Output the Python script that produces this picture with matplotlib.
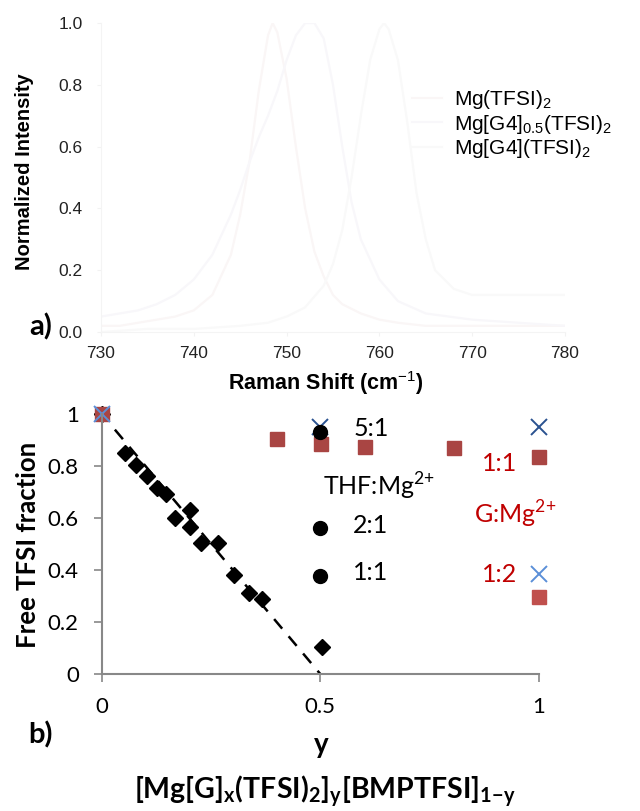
import matplotlib
matplotlib.use("Agg")
import matplotlib.pyplot as plt

plt.rcParams['mathtext.fontset'] = 'custom'
plt.rcParams['mathtext.rm'] = 'Lato'
plt.rcParams['mathtext.bf'] = 'Lato:bold'
plt.rcParams['mathtext.sf'] = 'Liberation Sans'

# --- a) Raman spectra (read off the picture) ---
shift_1 = [730, 732, 734, 736, 738, 740, 742, 744, 745, 746, 747, 748, 748.5, 749, 750, 751,
           752, 753, 754, 755, 756, 758, 760, 762, 765, 770, 775, 780]
int_1 = [0.02, 0.02, 0.03, 0.04, 0.05, 0.07, 0.12, 0.25, 0.38, 0.55, 0.78, 0.96, 1.0, 0.97, 0.82, 0.6,
         0.4, 0.26, 0.18, 0.12, 0.09, 0.06, 0.04, 0.03, 0.02, 0.02, 0.02, 0.02]
shift_2 = [730, 732, 734, 736, 738, 740, 742, 744, 745, 746, 747, 748, 749, 750, 751, 752, 753, 754,
           755, 756, 757, 758, 760, 762, 765, 770, 775, 780]
int_2 = [0.05, 0.06, 0.07, 0.09, 0.12, 0.17, 0.25, 0.38, 0.46, 0.55, 0.63, 0.7, 0.78, 0.88, 0.96, 1.0, 1.0, 0.95,
         0.8, 0.6, 0.42, 0.3, 0.17, 0.1, 0.06, 0.04, 0.03, 0.02]
shift_3 = [730, 735, 740, 745, 748, 750, 752, 754, 755, 756, 757, 758, 759, 760, 760.5, 761, 762, 763,
           764, 765, 766, 768, 770, 775, 780]
int_3 = [0.0, 0.01, 0.01, 0.02, 0.03, 0.05, 0.08, 0.15, 0.22, 0.33, 0.5, 0.7, 0.88, 0.98, 1.0, 0.98, 0.88, 0.68,
         0.45, 0.3, 0.2, 0.14, 0.12, 0.12, 0.12]
spec_labels = ['Mg(TFSI)$\\mathsf{_2}$', 'Mg[G4]$\\mathsf{_{0.5}}$(TFSI)$\\mathsf{_2}$', 'Mg[G4](TFSI)$\\mathsf{_2}$']

# --- b) free TFSI fraction vs y ---
dia_x = [0, 0.053, 0.079, 0.104, 0.127, 0.146, 0.167, 0.201, 0.201, 0.226, 0.266, 0.302, 0.337, 0.367, 0.504]
dia_y = [1, 0.849, 0.804, 0.762, 0.717, 0.692, 0.599, 0.631, 0.567, 0.505, 0.505, 0.381, 0.310, 0.287, 0.105]
sq11_x = [0, 0.401, 0.502, 0.603, 0.805, 1.0]
sq11_y = [1, 0.904, 0.885, 0.872, 0.868, 0.833]
sq12_x = [1.0]
sq12_y = [0.295]
xdark_x = [0.5, 1.0]
xdark_y = [0.951, 0.951]
xlight_x = [0, 1.0]
xlight_y = [1, 0.385]
thf_x = [0.5, 0.5, 0.5]
thf_y = [0.932, 0.56, 0.377]
thf_labels = ['5:1', '2:1', '1:1']
fit_x = [0.03, 0.5]
fit_y = [0.94, 0.0]

fig = plt.figure(figsize=(6.4, 8.11), dpi=100)

# top panel
ax1 = fig.add_axes([0.1578, 0.5906, 0.725, 0.381])
ax1.plot(shift_1, int_1, color='#faf6f6', lw=1.6, label=spec_labels[0])
ax1.plot(shift_2, int_2, color='#f8f7fa', lw=1.6, label=spec_labels[1])
ax1.plot(shift_3, int_3, color='#f9f9f9', lw=1.6, label=spec_labels[2])
ax1.set_xlim(730, 780)
ax1.set_ylim(0, 1.0)
ax1.set_xticks([730, 740, 750, 760, 770, 780])
ax1.set_yticks([0, 0.2, 0.4, 0.6, 0.8, 1.0])
ax1.set_yticklabels(['0.0', '0.2', '0.4', '0.6', '0.8', '1.0'])
for s in ['top', 'right']:
    ax1.spines[s].set_visible(False)
for s in ['left', 'bottom']:
    ax1.spines[s].set_color('#f4f4f4')
ax1.tick_params(colors='#f2f2f2', labelcolor='#222222', length=3, labelsize=12.5)
ax1.tick_params(axis='y', pad=10)
ax1.tick_params(axis='x', pad=7)
for t in ax1.get_xticklabels() + ax1.get_yticklabels():
    t.set_fontfamily('Liberation Sans')
leg = ax1.legend(loc='upper left', bbox_to_anchor=(0.671, 0.79), frameon=False,
                 prop={'family': 'Liberation Sans', 'size': 15}, borderaxespad=0, borderpad=0,
                 handlelength=1.4, handletextpad=0.6, labelspacing=0.08)
fig.text(0.039, 0.788, 'Normalized Intensity', rotation=90, ha='center', va='center',
         family='Liberation Sans', weight='bold', fontsize=14.5)
fig.text(0.509, 0.528, 'Raman Shift (cm$\\mathsf{^{-1}}$)', ha='center', va='center',
         family='Liberation Sans', weight='bold', fontsize=15.5)
fig.text(0.064, 0.597, 'a)', ha='center', va='center', family='Lato', weight='bold', fontsize=21)

# bottom panel
ax2 = fig.add_axes([0.159, 0.1689, 0.683, 0.3206])
ax2.plot(fit_x, fit_y, color='black', lw=1.8, linestyle=(0, (5, 4)))
ax2.plot(dia_x, dia_y, 'D', color='black', markersize=8, linestyle='none', clip_on=False)
ax2.plot(sq11_x, sq11_y, 's', color='#a94543', markersize=10, linestyle='none', clip_on=False)
ax2.plot(sq12_x, sq12_y, 's', color='#c0504d', markersize=10, linestyle='none', clip_on=False)
ax2.plot(xdark_x, xdark_y, 'x', color='#2a5290', markersize=11, mew=1.4, linestyle='none', clip_on=False)
ax2.plot(xlight_x, xlight_y, 'x', color='#5b8fd8', markersize=11, mew=1.4, linestyle='none', clip_on=False)
ax2.plot(thf_x, thf_y, 'o', color='black', markersize=10, linestyle='none', clip_on=False)
for yv, lab in zip(thf_y, thf_labels):
    ax2.text(0.575, yv + 0.012, lab, ha='left', va='center', family='Lato', fontsize=18)
ax2.text(0.505, 0.722, 'THF:Mg$^{2{+}}$', ha='left', va='center', family='Lato', fontsize=18)
ax2.text(0.911, 0.81, '1:1', ha='center', va='center', family='Lato', fontsize=18, color='#c00000')
ax2.text(0.945, 0.615, 'G:Mg$^{2{+}}$', ha='center', va='center', family='Lato', fontsize=18, color='#c00000')
ax2.text(0.911, 0.381, '1:2', ha='center', va='center', family='Lato', fontsize=18, color='#c00000')

ax2.set_xlim(0, 1)
ax2.set_ylim(0, 1)
ax2.set_xticks([0, 0.5, 1])
ax2.set_xticklabels(['0', '0.5', '1'])
ax2.set_yticks([0, 0.2, 0.4, 0.6, 0.8, 1])
ax2.set_yticklabels(['0', '0.2', '0.4', '0.6', '0.8', '1'])
for s in ['top', 'right']:
    ax2.spines[s].set_visible(False)
for s in ['left', 'bottom']:
    ax2.spines[s].set_color('#888888')
    ax2.spines[s].set_linewidth(1.5)
ax2.tick_params(colors='#888888', labelcolor='black', length=5.5, width=1.2, labelsize=16)
ax2.tick_params(axis='y', pad=11)
ax2.tick_params(axis='x', pad=11)
for t in ax2.get_xticklabels() + ax2.get_yticklabels():
    t.set_fontfamily('Lato')

fig.text(0.044, 0.328, 'Free TFSI fraction', rotation=90, ha='center', va='center',
         family='Lato', weight='bold', fontsize=18.5)
fig.text(0.5016, 0.0814, 'y', ha='center', va='center', family='Lato', weight='bold', fontsize=20)
fig.text(0.508, 0.023,
         '[Mg[G]$_\\mathbf{x}$(TFSI)$_\\mathbf{2}$]$_\\mathbf{y}$[BMPTFSI]$_\\mathbf{1{-}y}$',
         ha='center', va='center', family='Lato', weight='bold', fontsize=20.5)
fig.text(0.0625, 0.094, 'b)', ha='center', va='center', family='Lato', weight='bold', fontsize=21)

fig.savefig('out.png', dpi=100, facecolor='white')
